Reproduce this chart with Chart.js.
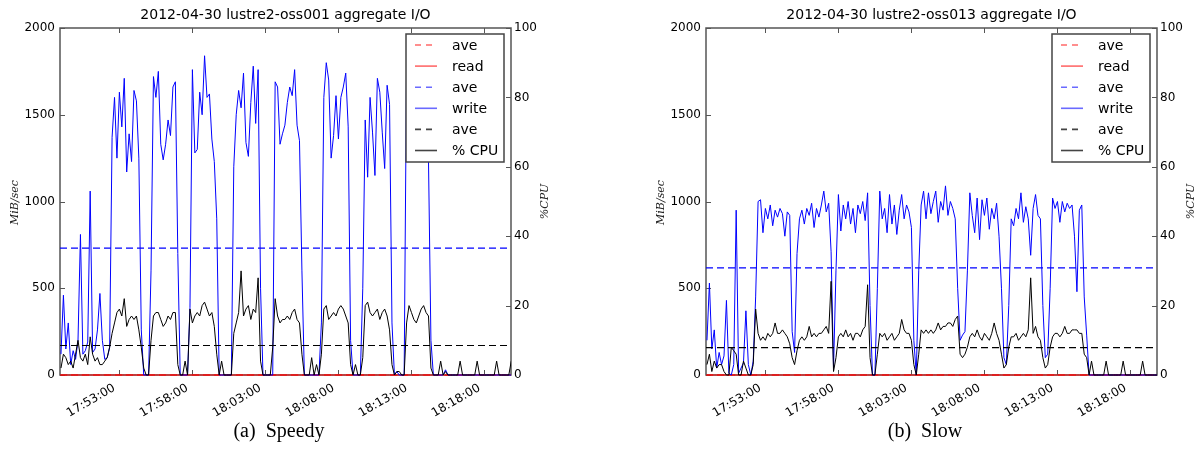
<!DOCTYPE html>
<html>
<head>
<meta charset="utf-8">
<script src="https://cdn.jsdelivr.net/npm/chart.js@4.4.1/dist/chart.umd.min.js"></script>
<style>
  body { margin: 0; background: #fff; width: 1198px; height: 457px; position: relative; overflow: hidden; }
  .panel { position: absolute; top: 0; width: 552px; height: 457px; }
  .caption { position: absolute; top: 419px; width: 240px; text-align: center;
             font: 20px "Liberation Serif", "DejaVu Serif", serif; color: #000; white-space: pre; }
</style>
</head>
<body>
<div class="panel" style="left:0"><canvas id="speedy"></canvas></div>
<div class="panel" style="left:646px"><canvas id="slow"></canvas></div>
<div class="caption" style="left:159px">(a)  Speedy</div>
<div class="caption" style="left:805px">(b)  Slow</div>
<script>
// sampling grid and axes
const sampleStart = '17:49:00';
const sampleStep = 10; // seconds
const axisStart = '17:48:56';
const axisEnd = '18:19:49';
const xTickLabels = ['17:53:00', '17:58:00', '18:03:00', '18:08:00', '18:13:00', '18:18:00'];
const mibTicks = [0, 500, 1000, 1500, 2000];
const cpuTicks = [0, 20, 40, 60, 80, 100];

// (a) Speedy: lustre2-oss001
const writeA = [
  120, 460, 150, 300, 60, 140, 90, 200, 810, 120,
  140, 190, 1060, 130, 150, 260, 470, 200, 90, 100,
  160, 1370, 1600, 1250, 1630, 1430, 1710, 1170, 1390, 1230,
  1640, 1580, 1250, 260, 0, 0, 0, 600, 1720, 1600,
  1750, 1330, 1240, 1330, 1470, 1380, 1660, 1690, 700, 0,
  0, 0, 0, 390, 1760, 1280, 1300, 1630, 1500, 1840,
  1600, 1620, 1360, 1230, 900, 0, 0, 0, 0, 0,
  0, 1200, 1500, 1640, 1540, 1740, 1340, 1260, 1570, 1780,
  1450, 1760, 500, 0, 0, 0, 0, 0, 1690, 1660,
  1330, 1390, 1440, 1570, 1660, 1610, 1760, 1440, 1350, 600,
  0, 0, 0, 0, 0, 0, 0, 300, 1600, 1800,
  1700, 1250, 1380, 1610, 1360, 1600, 1660, 1740, 1430, 200,
  0, 0, 0, 0, 500, 1470, 1140, 1600, 1400, 1150,
  1710, 1630, 1400, 1190, 1670, 1560, 300, 0, 20, 0,
  0, 0, 1800, 1650, 1500, 1700, 1600, 1450, 1650, 1550,
  1400, 1240, 200, 0, 0, 0, 0, 0, 30, 0,
  0, 0, 0, 0, 0, 0, 0, 0, 0, 0,
  0, 0, 0, 0, 0, 0, 0, 0, 0, 0,
  0, 0, 0, 0, 0, 0
];
const readA = [
  0, 0, 0, 0, 0, 0, 0, 0, 0, 0, 0, 0, 0, 0, 0, 0, 0, 0, 0, 0, 0, 0, 0, 0, 0, 0, 0, 0, 0, 0, 0,
  0, 0, 0, 0, 0, 0, 0, 0, 0, 0, 0, 0, 0, 0, 0, 0, 0, 0, 0, 0, 0, 0, 0, 0, 0, 0, 0, 0, 0, 0, 0,
  0, 0, 0, 0, 0, 0, 0, 0, 0, 0, 0, 0, 0, 0, 0, 0, 0, 0, 0, 0, 0, 0, 0, 0, 0, 0, 0, 0, 0, 0, 0,
  0, 0, 0, 0, 0, 0, 0, 0, 0, 0, 0, 0, 0, 0, 0, 0, 0, 0, 0, 0, 0, 0, 0, 0, 0, 0, 0, 0, 0, 0, 0,
  0, 0, 0, 0, 0, 0, 0, 0, 0, 0, 0, 0, 0, 0, 0, 0, 0, 0, 0, 0, 0, 0, 0, 0, 0, 0, 0, 0, 0, 0, 0,
  0, 0, 0, 0, 0, 0, 0, 0, 0, 0, 0, 0, 0, 0, 0, 0, 0, 0, 0, 0, 0, 0, 0, 0, 0, 0, 0, 0, 0, 0, 0
];
const cpuA = [
  2, 6, 5, 3, 4, 2, 6, 10, 5, 4,
  6, 3, 11, 6, 4, 5, 3, 3, 4, 5,
  8, 12, 15, 18, 19, 17, 22, 14, 16, 17,
  16, 17, 13, 8, 2, 0, 0, 10, 17, 18,
  18, 16, 14, 15, 17, 16, 18, 18, 3, 0,
  0, 4, 0, 19, 15, 17, 18, 17, 20, 21,
  19, 17, 18, 14, 6, 0, 4, 0, 0, 0,
  0, 12, 15, 18, 30, 17, 19, 20, 16, 19,
  18, 28, 4, 0, 0, 0, 0, 8, 22, 17,
  15, 16, 16, 17, 16, 18, 19, 16, 15, 6,
  0, 0, 0, 5, 0, 3, 0, 6, 19, 20,
  16, 17, 18, 17, 19, 20, 19, 17, 15, 3,
  0, 3, 0, 0, 5, 20, 21, 18, 17, 18,
  19, 16, 18, 19, 17, 13, 3, 0, 1, 1,
  0, 0, 15, 20, 18, 16, 15, 17, 19, 20,
  18, 17, 2, 0, 0, 0, 4, 0, 1, 0,
  0, 0, 0, 0, 4, 0, 0, 0, 0, 0,
  0, 4, 0, 0, 0, 0, 0, 0, 0, 4,
  0, 0, 0, 0, 0, 4
];
const readAveA = 0;
const writeAveA = 731;
const cpuAveA = 8.5;

// (b) Slow: lustre2-oss013
const writeB = [
  200, 530, 150, 260, 40, 130, 60, 110, 430, 10,
  0, 60, 950, 10, 40, 70, 370, 60, 0, 80,
  450, 1000, 1010, 820, 960, 900, 980, 860, 950, 910,
  960, 930, 800, 940, 920, 250, 130, 700, 900, 950,
  870, 960, 920, 990, 850, 960, 910, 980, 1060, 940,
  990, 710, 40, 600, 1040, 830, 980, 900, 1000, 870,
  960, 820, 980, 930, 1000, 890, 1050, 400, 0, 0,
  500, 1060, 900, 960, 820, 1040, 870, 980, 810, 950,
  1040, 900, 980, 940, 850, 200, 0, 600, 980, 1060,
  900, 1050, 930, 1000, 1060, 880, 1000, 950, 1090, 920,
  1000, 960, 900, 500, 200, 230, 250, 600, 1050, 920,
  820, 1020, 780, 1010, 920, 1020, 840, 960, 900, 990,
  800, 500, 100, 60, 400, 900, 860, 960, 900, 1050,
  880, 970, 900, 690, 960, 1040, 920, 900, 400, 100,
  120, 500, 1020, 960, 1000, 880, 1000, 940, 990, 960,
  980, 800, 480, 950, 980, 450, 230, 0, 0, 0,
  0, 0, 0, 0, 0, 0, 0, 0, 0, 0,
  0, 0, 0, 0, 0, 0, 0, 0, 0, 0,
  0, 0, 0, 0, 0, 0
];
const readB = [
  0, 0, 0, 0, 0, 0, 0, 0, 0, 0, 0, 0, 0, 0, 0, 0, 0, 0, 0, 0, 0, 0, 0, 0, 0, 0, 0, 0, 0, 0, 0,
  0, 0, 0, 0, 0, 0, 0, 0, 0, 0, 0, 0, 0, 0, 0, 0, 0, 0, 0, 0, 0, 0, 0, 0, 0, 0, 0, 0, 0, 0, 0,
  0, 0, 0, 0, 0, 0, 0, 0, 0, 0, 0, 0, 0, 0, 0, 0, 0, 0, 0, 0, 0, 0, 0, 0, 0, 0, 0, 0, 0, 0, 0,
  0, 0, 0, 0, 0, 0, 0, 0, 0, 0, 0, 0, 0, 0, 0, 0, 0, 0, 0, 0, 0, 0, 0, 0, 0, 0, 0, 0, 0, 0, 0,
  0, 0, 0, 0, 0, 0, 0, 0, 0, 0, 0, 0, 0, 0, 0, 0, 0, 0, 0, 0, 0, 0, 0, 0, 0, 0, 0, 0, 0, 0, 0,
  0, 0, 0, 0, 0, 0, 0, 0, 0, 0, 0, 0, 0, 0, 0, 0, 0, 0, 0, 0, 0, 0, 0, 0, 0, 0, 0, 0, 0, 0, 0
];
const cpuB = [
  3, 6, 1, 4, 2, 3, 3, 1, 0, 0,
  8, 7, 6, 0, 0, 4, 2, 0, 0, 3,
  19, 12, 10, 11, 10, 12, 11, 12, 15, 12,
  12, 13, 12, 11, 9, 5, 3, 7, 10, 11,
  10, 11, 14, 11, 12, 11, 12, 12, 13, 14,
  12, 27, 1, 5, 11, 12, 11, 13, 11, 12,
  10, 12, 12, 11, 13, 14, 26, 5, 0, 0,
  6, 12, 11, 12, 10, 11, 12, 10, 11, 12,
  16, 13, 12, 12, 10, 3, 0, 6, 13, 12,
  13, 12, 13, 12, 13, 15, 13, 14, 14, 15,
  15, 14, 16, 17, 6, 5, 6, 8, 11, 12,
  11, 13, 11, 10, 12, 11, 10, 12, 15, 12,
  10, 6, 2, 3, 8, 11, 11, 12, 10, 11,
  12, 11, 13, 28, 12, 14, 11, 10, 5, 2,
  3, 8, 11, 12, 12, 11, 12, 14, 12, 12,
  13, 13, 13, 12, 12, 6, 5, 0, 4, 0,
  0, 0, 0, 0, 4, 0, 0, 0, 0, 0,
  0, 4, 0, 0, 0, 0, 0, 0, 0, 4,
  0, 0, 0, 0, 0, 0
];
const readAveB = 0;
const writeAveB = 617;
const cpuAveB = 7.9;

const RED = '#ff0000';
const BLUE = '#0000ff';
const BLACK = '#000000';
const FRAME = '#555555';
const SANS = '"DejaVu Sans", sans-serif';

const toSec = s => { const [h, m, x] = s.split(':').map(Number); return h * 3600 + m * 60 + x; };
const fmtTime = v => {
  const h = Math.floor(v / 3600), m = Math.floor((v % 3600) / 60), s = Math.round(v % 60);
  return [h, m, s].map(n => String(n).padStart(2, '0')).join(':');
};

const xMin = toSec(axisStart);
const xMax = toSec(axisEnd);
const t0 = toSec(sampleStart);
const sampleTimes = writeA.map((_, i) => t0 + i * sampleStep);

const series = vals => vals.map((v, i) => ({ x: sampleTimes[i], y: v }));
const flat = v => [{ x: xMin, y: v }, { x: xMax, y: v }];

const legendItems = [
  { label: 'ave', color: '#ff6a6a', dash: true },
  { label: 'read', color: '#ff6a6a', dash: false },
  { label: 'ave', color: '#6a6aff', dash: true },
  { label: 'write', color: '#6a6aff', dash: false },
  { label: 'ave', color: '#444', dash: true },
  { label: '% CPU', color: '#444', dash: false },
];

// matplotlib-like frame, inward ticks, axis labels and boxed legend
const mplLook = {
  id: 'mplLook',
  beforeDatasetsDraw(chart) {
    const { ctx, chartArea: a, scales } = chart;
    ctx.save();
    ctx.strokeStyle = FRAME;
    ctx.lineWidth = 1.5;
    ctx.strokeRect(a.left, a.top, a.width, a.height);
    ctx.lineWidth = 1;
    ctx.beginPath();
    scales.x.ticks.forEach(t => {
      const px = Math.round(scales.x.getPixelForValue(t.value)) + 0.5;
      ctx.moveTo(px, a.bottom); ctx.lineTo(px, a.bottom - 5);
      ctx.moveTo(px, a.top); ctx.lineTo(px, a.top + 5);
    });
    scales.y.ticks.forEach(t => {
      const py = Math.round(scales.y.getPixelForValue(t.value)) + 0.5;
      ctx.moveTo(a.left, py); ctx.lineTo(a.left + 5, py);
    });
    scales.y1.ticks.forEach(t => {
      const py = Math.round(scales.y1.getPixelForValue(t.value)) + 0.5;
      ctx.moveTo(a.right, py); ctx.lineTo(a.right - 5, py);
    });
    ctx.stroke();

    // axis titles
    ctx.fillStyle = '#222';
    ctx.font = 'italic 11px "DejaVu Serif", serif';
    ctx.textAlign = 'center';
    ctx.textBaseline = 'middle';
    const midY = (a.top + a.bottom) / 2;
    ctx.save();
    ctx.translate(a.left - 45, midY + 1);
    ctx.rotate(-Math.PI / 2);
    ctx.fillText('MiB/sec', 0, 0);
    ctx.restore();
    ctx.save();
    ctx.translate(a.right + 34, midY);
    ctx.rotate(-Math.PI / 2);
    ctx.fillText('%CPU', 0, 0);
    ctx.restore();
    ctx.restore();
  },
  afterDatasetsDraw(chart) {
    const { ctx, chartArea: a } = chart;
    const w = 98, h = 128;
    const x0 = a.right - 7 - w, y0 = a.top + 6;
    ctx.save();
    ctx.fillStyle = '#fff';
    ctx.fillRect(x0, y0, w, h);
    ctx.strokeStyle = '#444';
    ctx.lineWidth = 1.5;
    ctx.strokeRect(x0, y0, w, h);
    ctx.font = '14px ' + SANS;
    ctx.textBaseline = 'middle';
    ctx.textAlign = 'left';
    legendItems.forEach((it, i) => {
      const cy = y0 + 11 + i * 21.1;
      ctx.strokeStyle = it.color;
      ctx.lineWidth = 1.6;
      ctx.setLineDash(it.dash ? [6, 5] : []);
      ctx.beginPath();
      ctx.moveTo(x0 + 9, cy); ctx.lineTo(x0 + 31, cy);
      ctx.stroke();
      ctx.fillStyle = '#000';
      ctx.fillText(it.label, x0 + 46, cy + 1);
    });
    ctx.restore();
  }
};

function makeChart(id, title, write, read, cpu, aves) {
  const line = (data, color, extra) => Object.assign({
    data, borderColor: color, backgroundColor: color, borderWidth: 1,
    pointRadius: 0, tension: 0, fill: false,
    clip: { left: 1, right: 0, top: 1, bottom: 2 }
  }, extra);

  return new Chart(document.getElementById(id), {
    type: 'line',
    data: {
      datasets: [
        line(flat(aves.read), RED, { label: 'ave', borderDash: [7, 4], order: 6 }),
        line(series(read), RED, { label: 'read', order: 5 }),
        line(flat(aves.write), BLUE, { label: 'ave', borderDash: [7, 4], borderWidth: 1.2, order: 4 }),
        line(series(write), BLUE, { label: 'write', order: 3 }),
        line(flat(aves.cpu), BLACK, { label: 'ave', borderDash: [7, 4], borderWidth: 1.2, yAxisID: 'y1', order: 2 }),
        line(series(cpu), BLACK, { label: '% CPU', yAxisID: 'y1', order: 1 }),
      ]
    },
    options: {
      responsive: true,
      maintainAspectRatio: false,
      animation: false,
      layout: { padding: 0 },
      plugins: {
        legend: { display: false },
        tooltip: { enabled: false },
        title: {
          display: true, text: title, fullSize: false, color: '#000',
          font: { family: SANS, size: 14, weight: 'normal' },
          padding: { top: 7, bottom: 4.2 }
        }
      },
      scales: {
        x: {
          type: 'linear', min: xMin, max: xMax,
          grid: { display: false, drawTicks: false },
          border: { display: false },
          afterBuildTicks: s => { s.ticks = xTickLabels.map(l => ({ value: toSec(l) })); },
          afterFit: s => { s.height = 82; },
          ticks: {
            autoSkip: false, minRotation: 30, maxRotation: 30, padding: 6, labelOffset: -5,
            color: '#000', font: { family: SANS, size: 12 },
            callback: v => fmtTime(v)
          }
        },
        y: {
          position: 'left', min: 0, max: 2000,
          grid: { display: false, drawTicks: false },
          border: { display: false },
          afterBuildTicks: s => { s.ticks = mibTicks.map(v => ({ value: v })); },
          afterFit: s => { s.width = 60; },
          ticks: { padding: 5, color: '#000', font: { family: SANS, size: 12 }, callback: v => String(v) }
        },
        y1: {
          position: 'right', min: 0, max: 100,
          grid: { display: false, drawTicks: false },
          border: { display: false },
          afterBuildTicks: s => { s.ticks = cpuTicks.map(v => ({ value: v })); },
          afterFit: s => { s.width = 41; },
          ticks: { padding: 3, color: '#000', font: { family: SANS, size: 12 }, callback: v => String(v) }
        }
      }
    },
    plugins: [mplLook]
  });
}

makeChart('speedy', '2012-04-30 lustre2-oss001 aggregate I/O', writeA, readA, cpuA,
  { read: readAveA, write: writeAveA, cpu: cpuAveA });
makeChart('slow', '2012-04-30 lustre2-oss013 aggregate I/O', writeB, readB, cpuB,
  { read: readAveB, write: writeAveB, cpu: cpuAveB });
</script>
</body>
</html>
